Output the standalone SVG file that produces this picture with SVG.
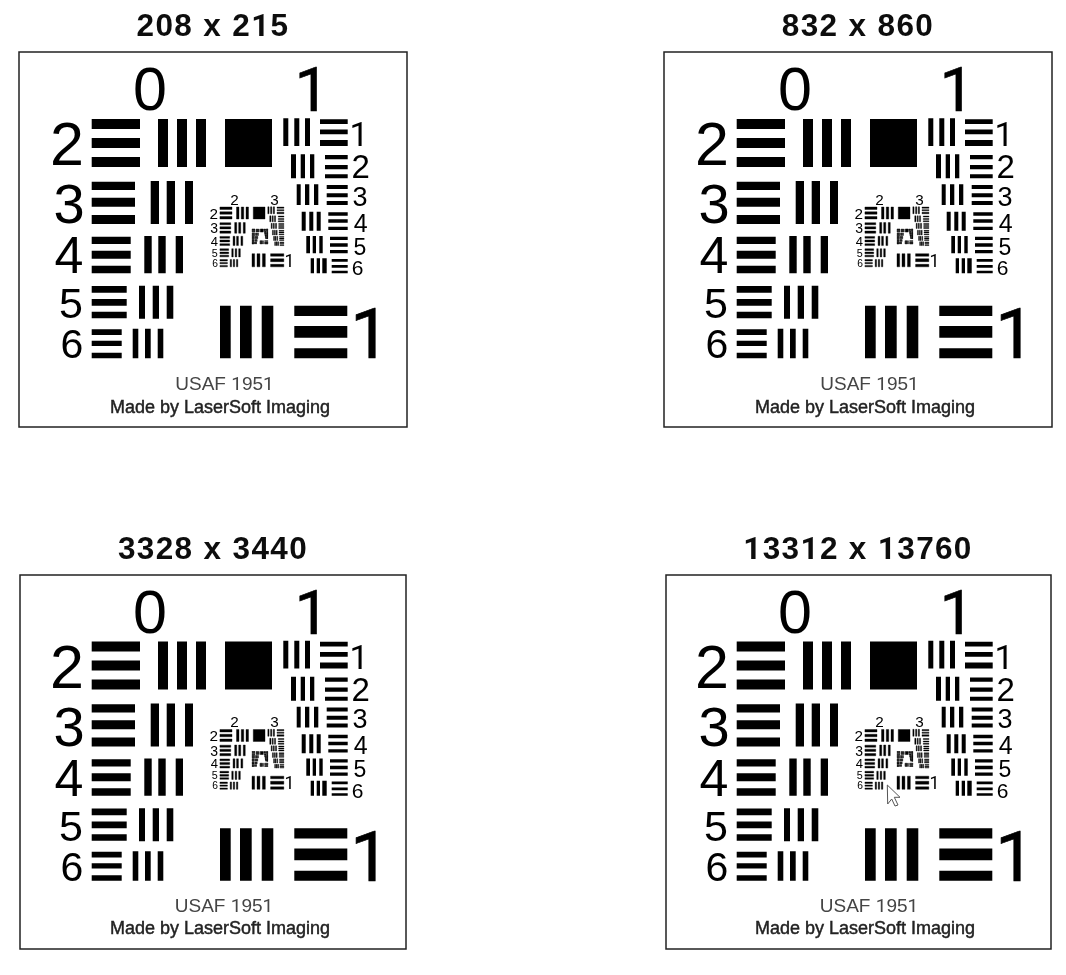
<svg xmlns="http://www.w3.org/2000/svg" xmlns:xlink="http://www.w3.org/1999/xlink" width="1066" height="975" viewBox="0 0 1066 975">
<style>
text{font-family:"Liberation Sans",Arial,sans-serif;fill:#000;text-anchor:middle}
.one{font-family:Roboto,"Liberation Sans",sans-serif}
.big{stroke:#000;stroke-width:.7px}
.title{font-size:31.5px;font-weight:700;letter-spacing:1.35px;fill:#111;filter:url(#soft2)}
.frame{fill:#fff;stroke:#222;stroke-width:1.5}
.usaf{font-size:19px;fill:#444}
.made{font-size:18px;fill:#222;stroke:#222;stroke-width:.45}
.soft{filter:url(#soft)}
</style>
<defs>
<filter id="soft" x="-5%" y="-5%" width="110%" height="110%"><feGaussianBlur stdDeviation="0.7"/></filter>
<filter id="soft2" x="-5%" y="-10%" width="110%" height="120%"><feGaussianBlur stdDeviation="0.5"/></filter>
<path id="bars" d="M91.7 119H140V129H91.7ZM91.7 138H140V148H91.7ZM91.7 157H140V167H91.7ZM158 119H168V167H158ZM177 119H187V167H177ZM196 119H206V167H196ZM225 119H272V167H225Z
M91.7 181.7H135V190H91.7ZM91.7 197.7H135V206.7H91.7ZM91.7 215H135V224H91.7ZM150.7 181H159V224H150.7ZM166.7 181H175V224H166.7ZM185 181H193V224H185Z
M91.7 236.7H130.7V244H91.7ZM91.7 250.7H130.7V258.7H91.7ZM91.7 265.7H130.7V273.3H91.7ZM144.3 236H151.7V273.3H144.3ZM158.3 236H165.7V273.3H158.3ZM175.7 236H183V273.3H175.7Z
M91.7 286H126.7V292.7H91.7ZM91.7 299H126.7V305.7H91.7ZM91.7 311.7H126.7V318.3H91.7ZM139 285.7H145V318.7H139ZM152.7 285.7H159V318.7H152.7ZM166.7 285.7H173.3V318.7H166.7Z
M91.7 329.3H121.7V335H91.7ZM91.7 340.7H121.7V346H91.7ZM91.7 352.7H121.7V358.3H91.7ZM132.7 328.7H138.3V358.3H132.7ZM145 328.7H150.7V358.3H145ZM157.7 328.7H163.3V358.3H157.7Z
M220 305.7H230.7V358.3H220ZM240 305.7H251.7V358.3H240ZM261.7 305.7H273.3V358.3H261.7ZM294.3 305.7H347.3V316H294.3ZM294.3 326H347.3V337.7H294.3ZM294.3 348.3H347.3V358.3H294.3Z
M283.3 118.3H288.3V146H283.3ZM294.3 118.3H299.3V146H294.3ZM305 118.3H310V146H305ZM320 119.3H347.7V124H320ZM320 129.5H347.7V134.3H320ZM320 140H347.7V146H320Z
M291 154.3H296V178.3H291ZM300.7 154.3H305V178.3H300.7ZM310 154.3H314.3V178.3H310ZM325 155H347.7V159.3H325ZM325 165H347.7V169.3H325ZM325 174.3H347.7V178.3H325Z
M296.7 184.3H300.7V205H296.7ZM305 184.3H309.3V205H305ZM314 184.3H318.3V205H314ZM326.7 185H347.7V189H326.7ZM326.7 193.3H347.7V197.3H326.7ZM326.7 201H347.7V205H326.7Z
M301.7 211.7H305.7V230.7H301.7ZM309.3 211.7H313.3V230.7H309.3ZM316.7 211.7H320.7V230.7H316.7ZM328.3 212.3H347.7V215.7H328.3ZM328.3 219.3H347.7V222.7H328.3ZM328.3 226.7H347.7V230H328.3Z
M306.3 236H310V253.3H306.3ZM312.7 236H316V253.3H312.7ZM319.3 236H322.7V253.3H319.3ZM330 236.7H347.7V240H330ZM330 243.3H347.7V246.7H330ZM330 250H347.7V253.3H330Z
M310.7 258.3H314V273.3H310.7ZM316.7 258.3H320V273.3H316.7ZM322.3 258.3H326.7V273.3H322.3ZM331.7 259H347.7V261.7H331.7ZM331.7 265H347.7V267.7H331.7ZM331.7 270.7H347.7V273.3H331.7Z"/>
<g id="target">
<use href="#bars"/>
<g transform="translate(197 177.25) scale(.25)"><use href="#bars" stroke="#000" stroke-width="1.5"/>
<g transform="translate(197 177.25) scale(.25)"><use href="#bars" stroke="#000" stroke-width="8"/></g></g>
</g>
</defs>

<g id="titles">
<text class="title" x="213" y="36">208 x 2<tspan class="one">1</tspan>5</text>
<text class="title" x="858" y="36">832 x 860</text>
<text class="title" x="213" y="559">3328 x 3440</text>
<text class="title" x="858" y="559"><tspan class="one">1</tspan>33<tspan class="one">1</tspan>2 x <tspan class="one">1</tspan>3760</text>
</g>

<g id="panel-208">
<rect class="frame" x="19" y="52" width="388" height="375"/>
<g class="soft">
<use href="#target"/>
<text x="150" y="110" font-size="61">0</text><text class="one big" x="312" y="111" font-size="61">1</text>
<text x="67" y="165" font-size="61">2</text><text x="69" y="223" font-size="56">3</text><text x="69" y="273" font-size="52">4</text><text x="71" y="318" font-size="43">5</text><text x="72" y="358" font-size="41">6</text>
<text class="one big" x="370" y="358" font-size="70">1</text>
<text class="one" x="359" y="146" font-size="34">1</text><text x="360.7" y="178" font-size="33">2</text><text x="360" y="205.5" font-size="27">3</text><text x="360.7" y="231.5" font-size="25">4</text><text x="360" y="254.8" font-size="23">5</text><text x="357.7" y="275" font-size="21">6</text>
<g transform="translate(197 177.25) scale(.25)"><text x="150" y="110" font-size="61">2</text><text x="310" y="110" font-size="61">3</text><text x="67" y="165" font-size="61">2</text><text x="69" y="223" font-size="56">3</text><text x="69" y="273" font-size="52">4</text><text x="71" y="318" font-size="43">5</text><text x="72" y="358" font-size="41">6</text><text class="one" x="370" y="358" font-size="70">1</text></g>
<text class="usaf" x="224.5" y="390">USAF <tspan class="one">1</tspan>95<tspan class="one">1</tspan></text>
<text class="made" x="220" y="412.5">Made by LaserSoft Imaging</text>
</g>
</g>

<g id="panel-832" transform="translate(645 0)">
<rect class="frame" x="19" y="52" width="388" height="375"/>
<g class="soft">
<use href="#target"/>
<text x="150" y="110" font-size="61">0</text><text class="one big" x="312" y="111" font-size="61">1</text>
<text x="67" y="165" font-size="61">2</text><text x="69" y="223" font-size="56">3</text><text x="69" y="273" font-size="52">4</text><text x="71" y="318" font-size="43">5</text><text x="72" y="358" font-size="41">6</text>
<text class="one big" x="370" y="358" font-size="70">1</text>
<text class="one" x="359" y="146" font-size="34">1</text><text x="360.7" y="178" font-size="33">2</text><text x="360" y="205.5" font-size="27">3</text><text x="360.7" y="231.5" font-size="25">4</text><text x="360" y="254.8" font-size="23">5</text><text x="357.7" y="275" font-size="21">6</text>
<g transform="translate(197 177.25) scale(.25)"><text x="150" y="110" font-size="61">2</text><text x="310" y="110" font-size="61">3</text><text x="67" y="165" font-size="61">2</text><text x="69" y="223" font-size="56">3</text><text x="69" y="273" font-size="52">4</text><text x="71" y="318" font-size="43">5</text><text x="72" y="358" font-size="41">6</text><text class="one" x="370" y="358" font-size="70">1</text></g>
<text class="usaf" x="224.5" y="390">USAF <tspan class="one">1</tspan>95<tspan class="one">1</tspan></text>
<text class="made" x="220" y="412.5">Made by LaserSoft Imaging</text>
</g>
</g>

<g id="panel-3328" transform="translate(0 522.5)">
<rect class="frame" x="20" y="52.5" width="386" height="374"/>
<g class="soft">
<use href="#target"/>
<text x="150" y="110" font-size="61">0</text><text class="one big" x="312" y="111" font-size="61">1</text>
<text x="67" y="165" font-size="61">2</text><text x="69" y="223" font-size="56">3</text><text x="69" y="273" font-size="52">4</text><text x="71" y="318" font-size="43">5</text><text x="72" y="358" font-size="41">6</text>
<text class="one big" x="370" y="358" font-size="70">1</text>
<text class="one" x="359" y="146" font-size="34">1</text><text x="360.7" y="178" font-size="33">2</text><text x="360" y="205.5" font-size="27">3</text><text x="360.7" y="231.5" font-size="25">4</text><text x="360" y="254.8" font-size="23">5</text><text x="357.7" y="275" font-size="21">6</text>
<g transform="translate(197 177.25) scale(.25)"><text x="150" y="110" font-size="61">2</text><text x="310" y="110" font-size="61">3</text><text x="67" y="165" font-size="61">2</text><text x="69" y="223" font-size="56">3</text><text x="69" y="273" font-size="52">4</text><text x="71" y="318" font-size="43">5</text><text x="72" y="358" font-size="41">6</text><text class="one" x="370" y="358" font-size="70">1</text></g>
<text class="usaf" x="224" y="389">USAF <tspan class="one">1</tspan>95<tspan class="one">1</tspan></text>
<text class="made" x="220" y="411.5">Made by LaserSoft Imaging</text>
</g>
</g>

<g id="panel-13312" transform="translate(645 522.5)">
<rect class="frame" x="21" y="52.5" width="385" height="374"/>
<g class="soft">
<use href="#target"/>
<text x="150" y="110" font-size="61">0</text><text class="one big" x="312" y="111" font-size="61">1</text>
<text x="67" y="165" font-size="61">2</text><text x="69" y="223" font-size="56">3</text><text x="69" y="273" font-size="52">4</text><text x="71" y="318" font-size="43">5</text><text x="72" y="358" font-size="41">6</text>
<text class="one big" x="370" y="358" font-size="70">1</text>
<text class="one" x="359" y="146" font-size="34">1</text><text x="360.7" y="178" font-size="33">2</text><text x="360" y="205.5" font-size="27">3</text><text x="360.7" y="231.5" font-size="25">4</text><text x="360" y="254.8" font-size="23">5</text><text x="357.7" y="275" font-size="21">6</text>
<g transform="translate(197 177.25) scale(.25)"><text x="150" y="110" font-size="61">2</text><text x="310" y="110" font-size="61">3</text><text x="67" y="165" font-size="61">2</text><text x="69" y="223" font-size="56">3</text><text x="69" y="273" font-size="52">4</text><text x="71" y="318" font-size="43">5</text><text x="72" y="358" font-size="41">6</text><text class="one" x="370" y="358" font-size="70">1</text></g>
<text class="usaf" x="224" y="389">USAF <tspan class="one">1</tspan>95<tspan class="one">1</tspan></text>
<text class="made" x="220" y="411.5">Made by LaserSoft Imaging</text>
</g>
</g>

<g id="cursor"><path d="M887.3 785L900 797.3H894.3L898 805L895 806L891.7 799L887.7 804Z" fill="#fff" stroke="#555" stroke-width="1"/></g>
</svg>
